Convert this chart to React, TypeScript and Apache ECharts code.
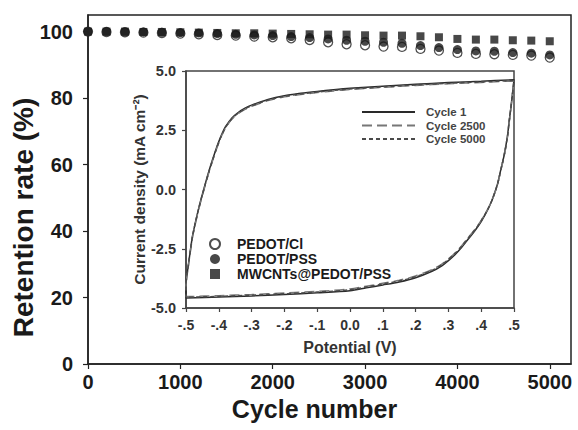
import React, { useEffect, useRef } from 'react';
import * as echarts from 'echarts';

// ---- main chart data (retention vs cycle number) ----
const cycles = [0, 200, 400, 600, 800, 1000, 1200, 1400, 1600, 1800, 2000, 2200, 2400, 2600, 2800, 3000, 3200, 3400, 3600, 3800, 4000, 4200, 4400, 4600, 4800, 5000];
const pedotCl = [100, 99.9, 99.8, 99.7, 99.6, 99.4, 99.2, 99.0, 98.8, 98.5, 98.3, 98.0, 97.5, 96.8, 96.2, 95.9, 95.5, 95.4, 94.8, 94.3, 93.6, 93.3, 93.2, 93.0, 92.8, 92.2];
const pedotPss = [100, 100, 99.9, 99.9, 99.8, 99.7, 99.6, 99.4, 99.2, 99.0, 98.8, 98.5, 98.2, 97.8, 97.4, 97.1, 96.8, 96.5, 95.8, 95.2, 94.6, 94.2, 94.1, 93.7, 93.5, 93.0];
const mwcnt = [100, 100, 100, 99.9, 99.9, 99.8, 99.7, 99.6, 99.5, 99.5, 99.4, 99.3, 99.2, 99.1, 99.1, 98.9, 98.8, 98.8, 98.6, 98.3, 97.8, 97.6, 97.6, 97.4, 97.3, 97.1];
const mainLegend = ['PEDOT/Cl', 'PEDOT/PSS', 'MWCNTs@PEDOT/PSS'];

// ---- inset data (cyclic voltammograms) ----
const potentialForward = [-0.5, -0.495, -0.49, -0.485, -0.48, -0.47, -0.46, -0.45, -0.44, -0.43, -0.42, -0.41, -0.4, -0.39, -0.38, -0.36, -0.34, -0.32, -0.3, -0.25, -0.2, -0.15, -0.1, -0.05, 0, 0.1, 0.2, 0.3, 0.4, 0.5];
const potentialReverse = [0.5, 0.495, 0.49, 0.485, 0.48, 0.47, 0.46, 0.45, 0.44, 0.43, 0.42, 0.4, 0.38, 0.36, 0.34, 0.32, 0.3, 0.28, 0.25, 0.2, 0.15, 0.1, 0.05, 0, -0.1, -0.2, -0.3, -0.4, -0.5];
const cycle1Forward = [-3.9, -3.4, -2.9, -2.4, -1.95, -1.3, -0.72, -0.2, 0.3, 0.78, 1.22, 1.64, 2.02, 2.36, 2.64, 3.02, 3.26, 3.43, 3.56, 3.8, 3.96, 4.06, 4.14, 4.21, 4.27, 4.36, 4.44, 4.51, 4.57, 4.63];
const cycle1Reverse = [4.63, 4.0, 3.4, 2.85, 2.25, 1.45, 0.85, 0.25, -0.18, -0.55, -0.85, -1.35, -1.75, -2.1, -2.45, -2.75, -3.0, -3.22, -3.45, -3.72, -3.9, -4.03, -4.15, -4.27, -4.36, -4.43, -4.49, -4.54, -4.58];
const cycle2500Forward = [-3.95, -3.45, -2.95, -2.45, -2.0, -1.35, -0.77, -0.25, 0.25, 0.73, 1.17, 1.59, 1.97, 2.31, 2.59, 2.97, 3.21, 3.38, 3.51, 3.75, 3.91, 4.01, 4.09, 4.16, 4.22, 4.31, 4.39, 4.46, 4.52, 4.58];
const cycle2500Reverse = [4.58, 3.95, 3.35, 2.8, 2.2, 1.42, 0.82, 0.22, -0.2, -0.55, -0.83, -1.3, -1.7, -2.04, -2.38, -2.68, -2.93, -3.15, -3.38, -3.65, -3.83, -3.96, -4.08, -4.2, -4.3, -4.37, -4.43, -4.48, -4.52];
const cycle5000Forward = [-3.92, -3.42, -2.92, -2.42, -1.97, -1.32, -0.74, -0.22, 0.28, 0.75, 1.19, 1.61, 1.99, 2.33, 2.61, 2.99, 3.23, 3.4, 3.53, 3.77, 3.93, 4.03, 4.11, 4.18, 4.24, 4.33, 4.41, 4.48, 4.54, 4.6];
const cycle5000Reverse = [4.6, 3.98, 3.38, 2.83, 2.23, 1.44, 0.84, 0.24, -0.19, -0.55, -0.84, -1.32, -1.72, -2.06, -2.4, -2.7, -2.95, -3.18, -3.41, -3.68, -3.86, -3.99, -4.11, -4.23, -4.33, -4.4, -4.46, -4.51, -4.55];
const insetLegend = ['Cycle 1', 'Cycle 2500', 'Cycle 5000'];

const FONT = '"Liberation Sans", Arial, Helvetica, sans-serif';
const INK = '#1a1a1a';
const SQUARE_ICON = 'path://M0 0H10V10H0Z';

function loop(fwd: number[], rev: number[]) {
  const pts: number[][] = [];
  potentialForward.forEach((p, i) => pts.push([p, fwd[i]]));
  potentialReverse.forEach((p, i) => pts.push([p, rev[i]]));
  pts.push([potentialForward[0], fwd[0]]);
  return pts;
}

export default function App() {
  const ref = useRef<HTMLDivElement>(null);
  useEffect(() => {
    if (!ref.current) return;
    const chart = echarts.init(ref.current, undefined, { renderer: 'svg' });
    const pair = (vals: number[]) => cycles.map((c, i) => [c, vals[i]]);
    const fmtInsetX = (v: number) => (Math.abs(v) < 1e-9 ? '0.0' : v.toFixed(1).replace('0.', '.'));
    chart.setOption({
      animation: false,
      backgroundColor: '#ffffff',
      textStyle: { fontFamily: FONT },
      grid: [
        { left: 88, top: 15, right: 7, bottom: 66, show: true, borderColor: '#222', borderWidth: 1.5, backgroundColor: 'transparent' },
        { left: 186, top: 71, width: 328, height: 237, show: true, borderColor: '#444', borderWidth: 1.5, backgroundColor: '#ffffff', z: 5 },
      ],
      xAxis: [
        {
          gridIndex: 0, type: 'value', min: 0, max: 5230, interval: 1000,
          name: 'Cycle number', nameLocation: 'middle', nameGap: 32, nameMoveOverlap: false,
          nameTextStyle: { fontSize: 25, fontWeight: 'bold', color: INK, fontFamily: FONT, padding: [0, 30, 0, 0] },
          axisLine: { show: true, onZero: false, lineStyle: { color: '#222', width: 1.5 } },
          axisTick: { show: true, inside: false, length: 5, lineStyle: { color: '#222', width: 1.2 } },
          axisLabel: { fontSize: 20, fontWeight: 'bold', color: INK, fontFamily: FONT, margin: 8, showMaxLabel: false, formatter: (v: number) => String(v) },
          splitLine: { show: false },
        },
        {
          gridIndex: 1, type: 'value', min: -0.5, max: 0.5, interval: 0.1,
          name: 'Potential (V)', nameLocation: 'middle', nameGap: 31, nameMoveOverlap: false,
          nameTextStyle: { fontSize: 16, fontWeight: 'bold', color: '#333', fontFamily: FONT },
          axisLine: { show: true, onZero: false, lineStyle: { color: '#444', width: 1.5 } },
          axisTick: { show: true, inside: false, length: 4, lineStyle: { color: '#444', width: 1.2 } },
          axisLabel: { fontSize: 14, fontWeight: 'bold', color: '#333', fontFamily: FONT, margin: 10, formatter: fmtInsetX },
          splitLine: { show: false },
          z: 6,
        },
      ],
      yAxis: [
        {
          gridIndex: 0, type: 'value', min: 0, max: 105, interval: 20,
          name: 'Retention rate (%)', nameLocation: 'middle', nameGap: 51, nameRotate: 90, nameMoveOverlap: false,
          nameTextStyle: { fontSize: 28, fontWeight: 'bold', color: INK, fontFamily: FONT, padding: [0, 56, 0, 0] },
          axisLine: { show: true, onZero: false, lineStyle: { color: '#222', width: 1.5 } },
          axisTick: { show: true, inside: false, length: 5, lineStyle: { color: '#222', width: 1.2 } },
          axisLabel: { fontSize: 20, fontWeight: 'bold', color: INK, fontFamily: FONT, margin: 15, showMaxLabel: false },
          splitLine: { show: false },
        },
        {
          gridIndex: 1, type: 'value', min: -5, max: 5, interval: 2.5,
          name: 'Current density (mA cm\u207B\u00B2)', nameLocation: 'middle', nameGap: 39, nameRotate: 90, nameMoveOverlap: false,
          nameTextStyle: { fontSize: 15.5, fontWeight: 'bold', color: '#333', fontFamily: FONT },
          axisLine: { show: true, onZero: false, lineStyle: { color: '#444', width: 1.5 } },
          axisTick: { show: true, inside: false, length: 4, lineStyle: { color: '#444', width: 1.2 } },
          axisLabel: { fontSize: 14.5, fontWeight: 'bold', color: '#333', fontFamily: FONT, margin: 10, formatter: (v: number) => v.toFixed(1) },
          splitLine: { show: false },
          z: 6,
        },
      ],
      legend: [
        {
          data: [
            { name: mainLegend[0], icon: 'circle' },
            { name: mainLegend[1], icon: 'circle' },
            { name: mainLegend[2], icon: SQUARE_ICON },
          ],
          orient: 'vertical', left: 204, top: 232, itemWidth: 34, itemHeight: 10, itemGap: 1, symbolKeepAspect: true,
          textStyle: { fontSize: 14, lineHeight: 14, fontWeight: 'bold', color: INK, fontFamily: FONT },
          z: 10,
        },
        {
          data: insetLegend, orient: 'vertical', left: 356, top: 101, itemWidth: 53, itemHeight: 10, itemGap: 1.5,
          itemStyle: { color: 'transparent', borderColor: 'transparent', borderWidth: 0, opacity: 0 },
          textStyle: { fontSize: 11.5, fontWeight: 'bold', color: '#444', fontFamily: FONT, padding: [0, 0, 0, 6] },
          z: 10,
        },
      ],
      series: [
        {
          name: 'PEDOT/Cl', type: 'scatter', xAxisIndex: 0, yAxisIndex: 0, symbol: 'circle', symbolSize: 9,
          itemStyle: { color: '#ffffff', borderColor: '#222', borderWidth: 1.3 }, data: pair(pedotCl), z: 2,
        },
        {
          name: 'PEDOT/PSS', type: 'scatter', xAxisIndex: 0, yAxisIndex: 0, symbol: 'circle', symbolSize: 9,
          itemStyle: { color: '#1a1a1a' }, data: pair(pedotPss), z: 3,
        },
        {
          name: 'MWCNTs@PEDOT/PSS', type: 'scatter', xAxisIndex: 0, yAxisIndex: 0, symbol: 'rect', symbolSize: 8,
          itemStyle: { color: '#1a1a1a' }, data: pair(mwcnt), z: 4,
        },
        {
          name: 'Cycle 1', type: 'line', xAxisIndex: 1, yAxisIndex: 1, symbol: 'none', showSymbol: false, smooth: 0.3,
          lineStyle: { color: '#2a2a2a', width: 1.5, type: 'solid' }, data: loop(cycle1Forward, cycle1Reverse), z: 7,
        },
        {
          name: 'Cycle 2500', type: 'line', xAxisIndex: 1, yAxisIndex: 1, symbol: 'none', showSymbol: false, smooth: 0.3,
          lineStyle: { color: '#777777', width: 1.5, type: [10, 5] }, data: loop(cycle2500Forward, cycle2500Reverse), z: 8,
        },
        {
          name: 'Cycle 5000', type: 'line', xAxisIndex: 1, yAxisIndex: 1, symbol: 'none', showSymbol: false, smooth: 0.3,
          lineStyle: { color: '#4a4a4a', width: 1.5, type: [4, 3] }, data: loop(cycle5000Forward, cycle5000Reverse), z: 9,
        },
      ],
    });
    return () => chart.dispose();
  }, []);
  return <div ref={ref} style={{ position: 'fixed', left: 0, top: 0, width: 578, height: 430 }} />;
}
